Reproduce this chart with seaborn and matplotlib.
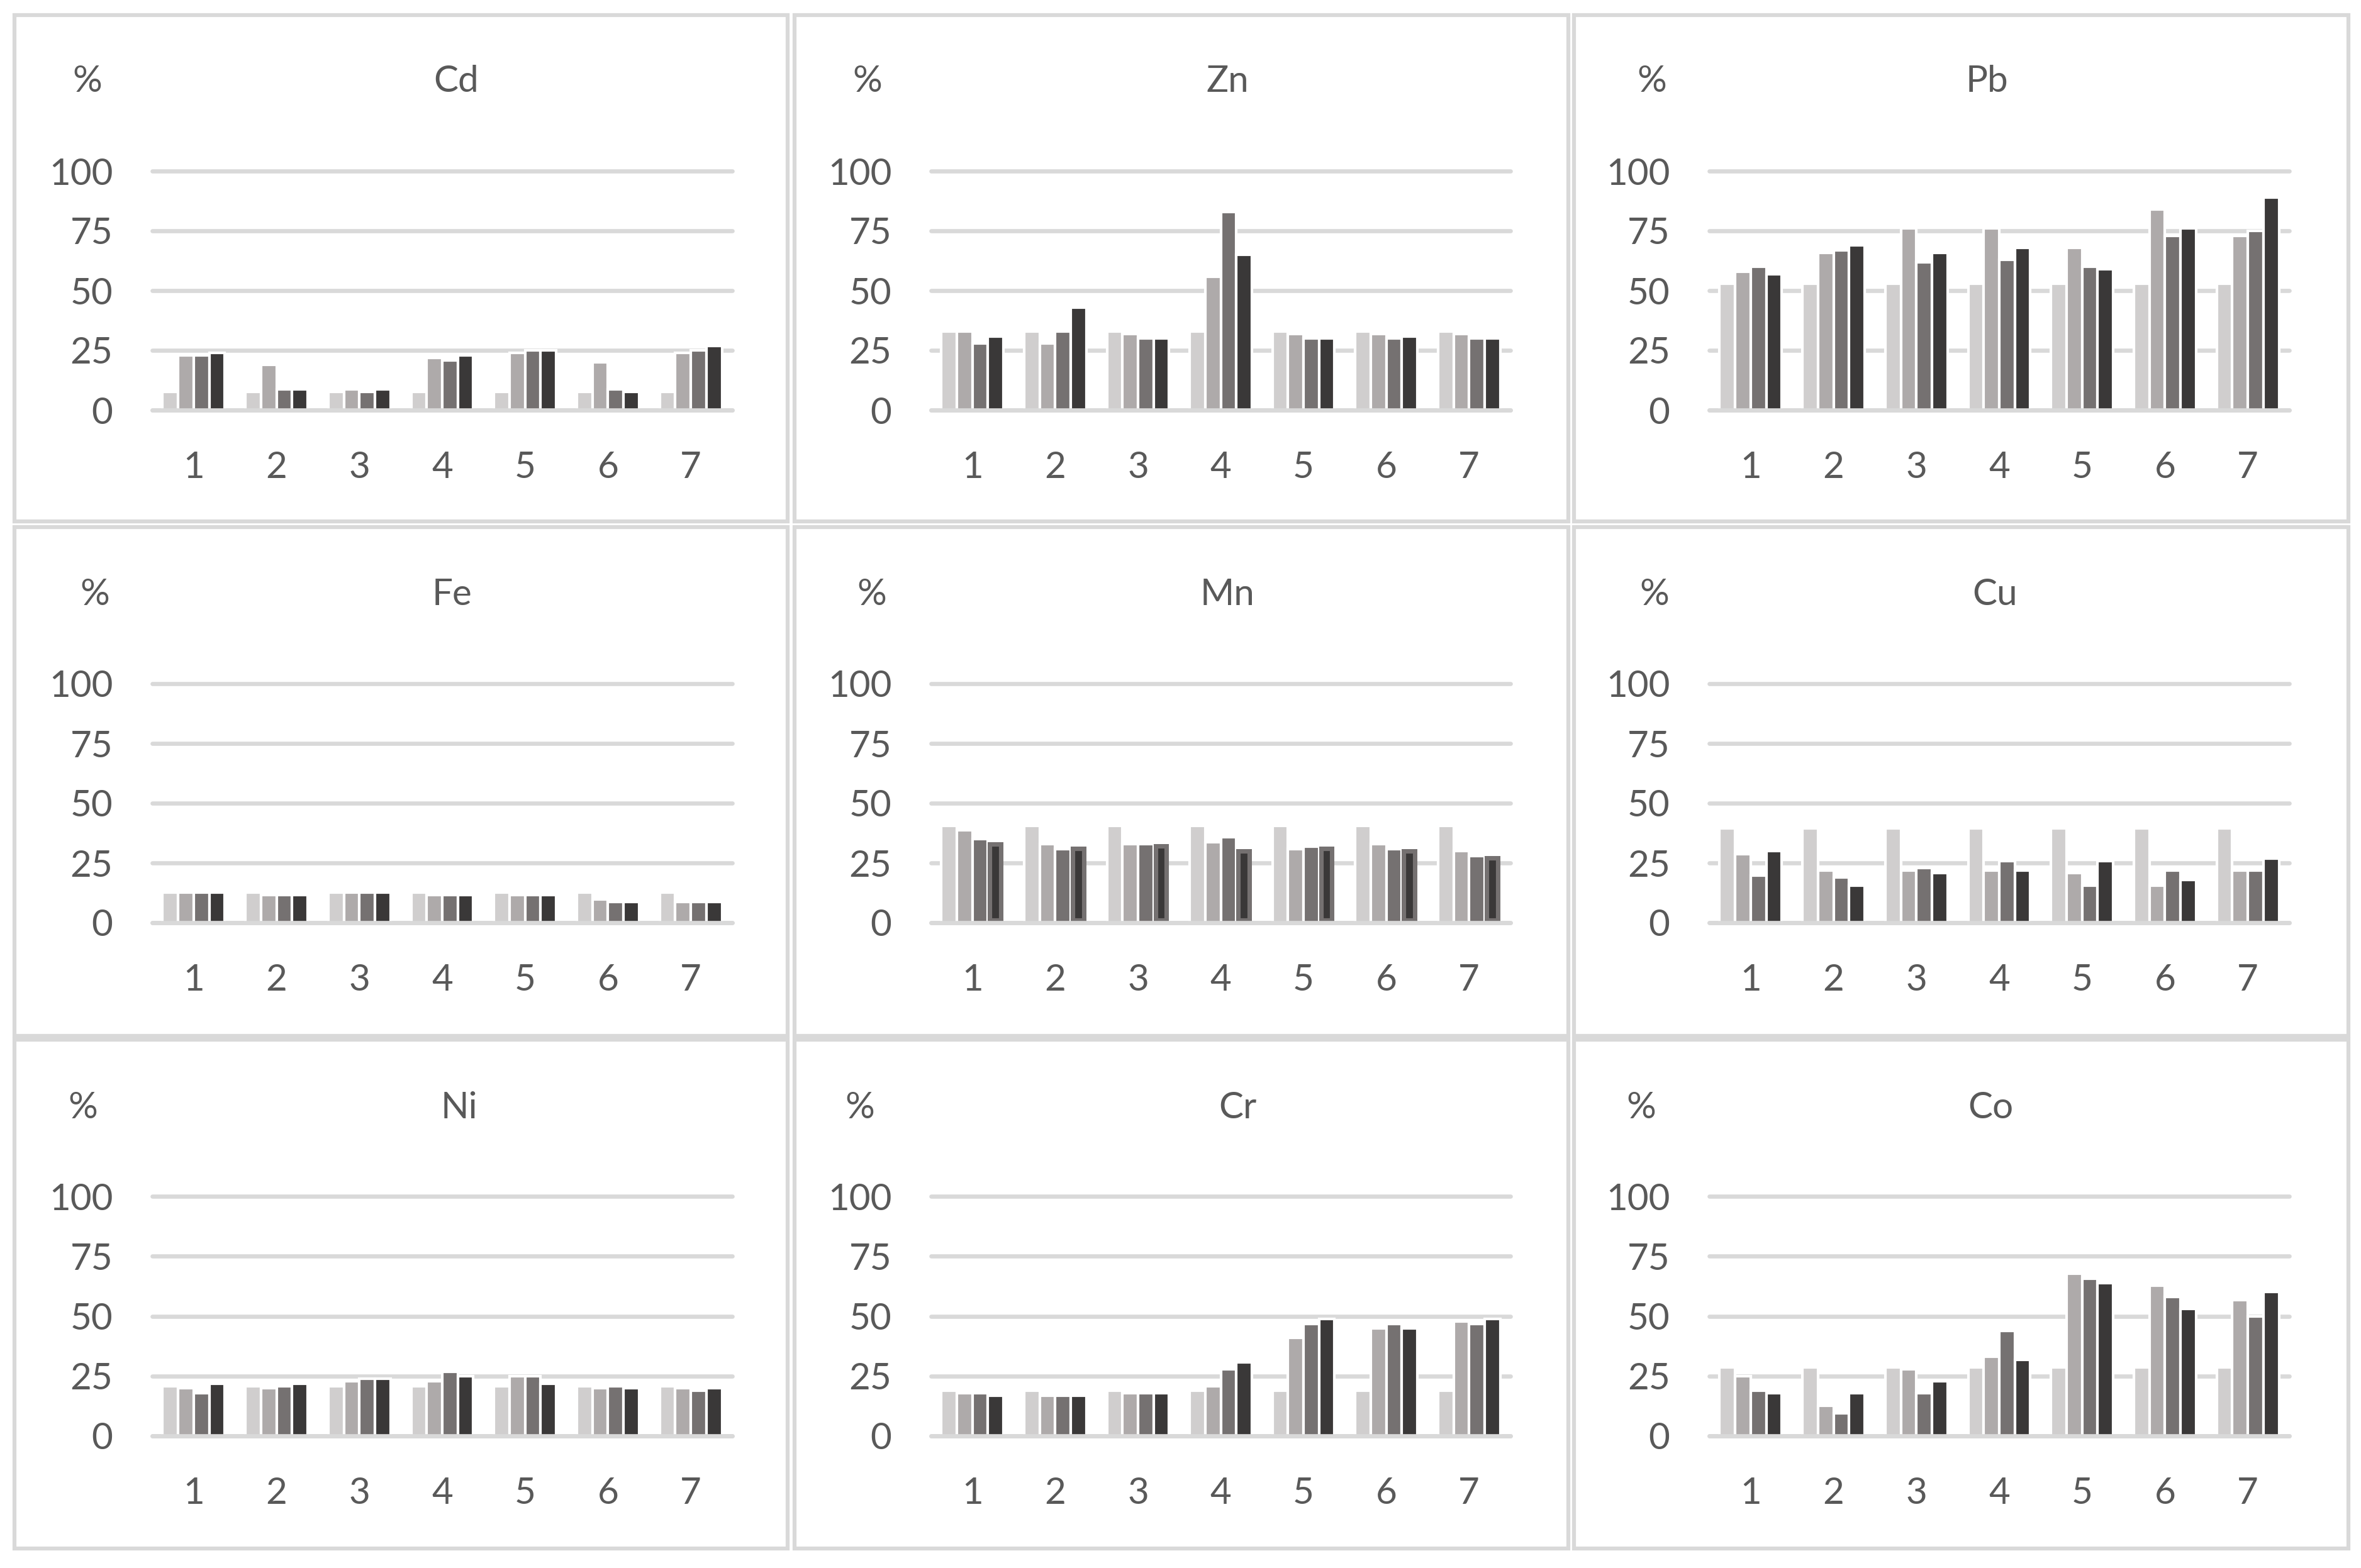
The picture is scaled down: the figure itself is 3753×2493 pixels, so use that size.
import numpy as np
import pandas as pd
import seaborn as sns
import matplotlib.pyplot as plt
from matplotlib.patches import Rectangle

# sites on the x axis and the four series (light -> dark)
sites = ['1', '2', '3', '4', '5', '6', '7']
series = ['A', 'B', 'C', 'D']
palette = ['#D0CECE', '#AEAAAA', '#757171', '#3A3838']

# values in %, one list per series
cd = [[7.7, 7.7, 7.7, 7.7, 7.7, 7.7, 7.7],
      [22.8, 18.9, 8.8, 21.8, 23.9, 19.9, 23.9],
      [22.8, 8.8, 7.7, 20.8, 24.9, 8.8, 24.9],
      [23.9, 8.8, 8.8, 22.8, 24.9, 7.7, 26.8]]
zn = [[33, 33, 33, 33, 33, 33, 33],
      [33, 27.9, 31.8, 55.8, 31.8, 31.8, 31.8],
      [27.9, 33, 29.9, 82.9, 29.9, 29.9, 29.9],
      [30.8, 42.8, 29.9, 65, 29.9, 30.8, 29.9]]
pb = [[52.9, 52.9, 52.9, 52.9, 52.9, 52.9, 52.9],
      [57.9, 65.7, 76, 76, 67.8, 83.9, 72.8],
      [60, 66.8, 61.8, 62.8, 60, 72.8, 75],
      [56.8, 68.9, 65.7, 67.8, 58.9, 76, 88.9]]
fe = [[12.7, 12.7, 12.7, 12.7, 12.7, 12.7, 12.7],
      [12.7, 11.7, 12.7, 11.7, 11.7, 9.7, 8.8],
      [12.7, 11.7, 12.7, 11.7, 11.7, 8.8, 8.8],
      [12.7, 11.7, 12.7, 11.7, 11.7, 8.8, 8.8]]
mn = [[40.6, 40.6, 40.6, 40.6, 40.6, 40.6, 40.6],
      [38.7, 33, 33, 33.8, 30.8, 33, 29.9],
      [34.9, 30.8, 33, 35.8, 31.8, 30.8, 27.9],
      [33.8, 31.8, 33, 30.8, 31.8, 30.8, 27.9]]
cu = [[39.5, 39.5, 39.5, 39.5, 39.5, 39.5, 39.5],
      [28.7, 21.8, 21.8, 21.8, 20.8, 15.6, 21.8],
      [19.8, 18.9, 22.8, 25.7, 15.6, 21.8, 21.8],
      [29.9, 15.6, 20.8, 21.8, 25.7, 17.8, 26.8]]
ni = [[20.8, 20.8, 20.8, 20.8, 20.8, 20.8, 20.8],
      [19.9, 19.9, 22.8, 22.8, 24.9, 19.9, 19.9],
      [17.8, 20.8, 23.9, 26.8, 24.9, 20.8, 18.9],
      [21.8, 21.8, 23.9, 24.9, 21.8, 19.9, 19.9]]
cr = [[18.9, 18.9, 18.9, 18.9, 18.9, 18.9, 18.9],
      [17.8, 16.7, 17.8, 20.8, 40.9, 44.8, 47.9],
      [17.8, 16.7, 17.8, 27.9, 46.7, 46.7, 46.7],
      [16.7, 16.7, 17.8, 30.8, 48.8, 44.8, 48.8]]
co = [[28.7, 28.7, 28.7, 28.7, 28.7, 28.7, 28.7],
      [24.9, 12.7, 27.9, 33, 67.8, 62.8, 56.8],
      [18.9, 9.4, 17.8, 43.9, 65.7, 57.9, 49.9],
      [17.8, 17.8, 22.8, 31.8, 63.9, 52.9, 60]]

elements = ['Cd', 'Zn', 'Pb', 'Fe', 'Mn', 'Cu', 'Ni', 'Cr', 'Co']
values = [cd, zn, pb, fe, mn, cu, ni, cr, co]

W, H = 3753, 2493
text_color = '#595959'
grid_color = '#D9D9D9'

sns.set_theme(style='white')
plt.rcParams['font.family'] = ['Lato', 'DejaVu Sans']

fig = plt.figure(figsize=(W / 300, H / 300), dpi=300)

# panel frames (pixels)
col_frames = [(23, 1252), (1263, 2493), (2502, 3733)]
row_frames = [(24, 829), (838, 1647), (1653, 2462)]
# plot areas (pixels): x from/to, y of 100 and 0
col_plot = [(242, 1164), (1480, 2401), (2717, 3639)]
row_plot = [(272, 652), (1087, 1467), (1902, 2283)]
# title and "%" positions (pixels), per panel
title_x = [725, 1951, 3159, 718, 1951, 3171, 730, 1967, 3164]
pct_x = [139, 1379, 2626, 151, 1386, 2630, 132, 1367, 2609]
head_y = [130, 946, 1762]

for i, (name, vals) in enumerate(zip(elements, values)):
    r, c = divmod(i, 3)
    fx0, fx1 = col_frames[c]
    fy0, fy1 = row_frames[r]
    fig.patches.append(Rectangle((fx0 / W, 1 - fy1 / H), (fx1 - fx0) / W, (fy1 - fy0) / H,
                                 transform=fig.transFigure, fill=False,
                                 edgecolor=grid_color, linewidth=1.5))

    x0, x1 = col_plot[c]
    y100, y0 = row_plot[r]
    ax = fig.add_axes([x0 / W, 1 - y0 / H, (x1 - x0) / W, (y0 - y100) / H])

    df = pd.DataFrame({
        'site': np.tile(sites, len(series)),
        'series': np.repeat(series, len(sites)),
        'value': np.concatenate(vals),
    })
    sns.barplot(data=df, x='site', y='value', hue='series', order=sites,
                hue_order=series, palette=palette, width=0.75, saturation=1,
                legend=False, ax=ax)

    if name == 'Mn':
        # darkest series shows a thick inner border in the reference
        for bar in ax.containers[3]:
            bar.set_edgecolor(palette[2])
            bar.set_linewidth(3.4)
            bar.set_clip_path(bar)

    ax.set_xlim(-0.5, 6.5)
    ax.set_ylim(0, 100)
    ax.set_yticks([0, 25, 50, 75, 100])
    ax.yaxis.grid(True, color=grid_color, linewidth=1.6)
    ax.set_axisbelow(True)
    for gl in ax.get_ygridlines():
        gl.set_clip_on(False)
    ax.axhline(0, color=grid_color, linewidth=1.6, zorder=3, clip_on=False)
    for s in ax.spines.values():
        s.set_visible(False)
    ax.tick_params(axis='both', length=0, labelsize=14, labelcolor=text_color)
    ax.tick_params(axis='y', pad=15)
    ax.tick_params(axis='x', pad=15.5)
    ax.set_xlabel('')
    ax.set_ylabel('')

    fig.text(title_x[i] / W, 1 - head_y[r] / H, name, ha='center', va='center',
             fontsize=14, color=text_color)
    fig.text(pct_x[i] / W, 1 - head_y[r] / H, '%', ha='center', va='center',
             fontsize=14, color=text_color)

fig.savefig('out.png', dpi=300, facecolor='white')
plt.close(fig)
